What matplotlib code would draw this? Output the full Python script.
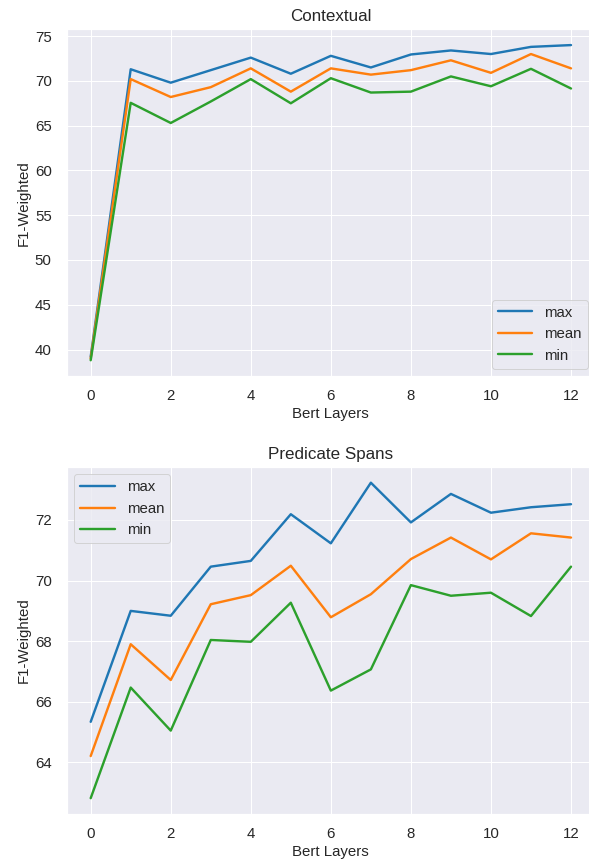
import matplotlib
matplotlib.use('Agg')
import matplotlib.pyplot as plt
import seaborn as sns

layers = list(range(13))

ctx_max = [39.2, 71.3, 69.8, 71.2, 72.6, 70.8, 72.8, 71.5, 72.95, 73.4, 73.0, 73.8, 74.0]
ctx_mean = [39.0, 70.2, 68.2, 69.3, 71.4, 68.8, 71.4, 70.7, 71.2, 72.3, 70.9, 73.0, 71.4]
ctx_min = [38.8, 67.55, 65.3, 67.7, 70.2, 67.5, 70.3, 68.7, 68.8, 70.5, 69.4, 71.35, 69.15]

pred_max = [65.34, 69.0, 68.84, 70.46, 70.65, 72.19, 71.23, 73.23, 71.92, 72.86, 72.24, 72.42, 72.52]
pred_mean = [64.21, 67.9, 66.72, 69.22, 69.52, 70.49, 68.79, 69.55, 70.71, 71.42, 70.70, 71.56, 71.42]
pred_min = [62.82, 66.47, 65.05, 68.04, 67.98, 69.27, 66.37, 67.07, 69.85, 69.5, 69.6, 68.83, 70.46]

colors = ['#1f77b4', '#ff7f0e', '#2ca02c']

sns.set_theme(style='darkgrid')
plt.rcParams['font.family'] = ['Liberation Sans', 'DejaVu Sans']
plt.rcParams['xtick.labelsize'] = 15
plt.rcParams['ytick.labelsize'] = 15
plt.rcParams['axes.labelsize'] = 15
plt.rcParams['axes.titlesize'] = 17
plt.rcParams['legend.fontsize'] = 15
plt.rcParams['text.color'] = '#262626'

fig = plt.figure(figsize=(589 / 72, 865 / 72), dpi=72)
# right edge of both panels runs a little past the figure, as in the original
ax1 = fig.add_axes([0.1132, 0.5653, 0.897, 0.4008])
ax2 = fig.add_axes([0.1132, 0.0590, 0.897, 0.4012])

panels = [
    (ax1, 'Contextual', ctx_max, ctx_mean, ctx_min, 'lower right'),
    (ax2, 'Predicate Spans', pred_max, pred_mean, pred_min, 'upper left'),
]

for ax, title, mx, mn, lo, loc in panels:
    ax.plot(layers, mx, label='max', color=colors[0], lw=2.4)
    ax.plot(layers, mn, label='mean', color=colors[1], lw=2.4)
    ax.plot(layers, lo, label='min', color=colors[2], lw=2.4)
    ax.set_title(title, pad=8)
    ax.set_xlabel('Bert Layers', labelpad=4)
    ax.set_ylabel('F1-Weighted', labelpad=4)
    ax.set_xticks([0, 2, 4, 6, 8, 10, 12])
    ax.tick_params(axis='x', pad=7)
    ax.tick_params(axis='y', pad=9)
    ax.legend(loc=loc, handlelength=2.3, labelspacing=0.5)

fig.savefig('out.png', dpi=72)
